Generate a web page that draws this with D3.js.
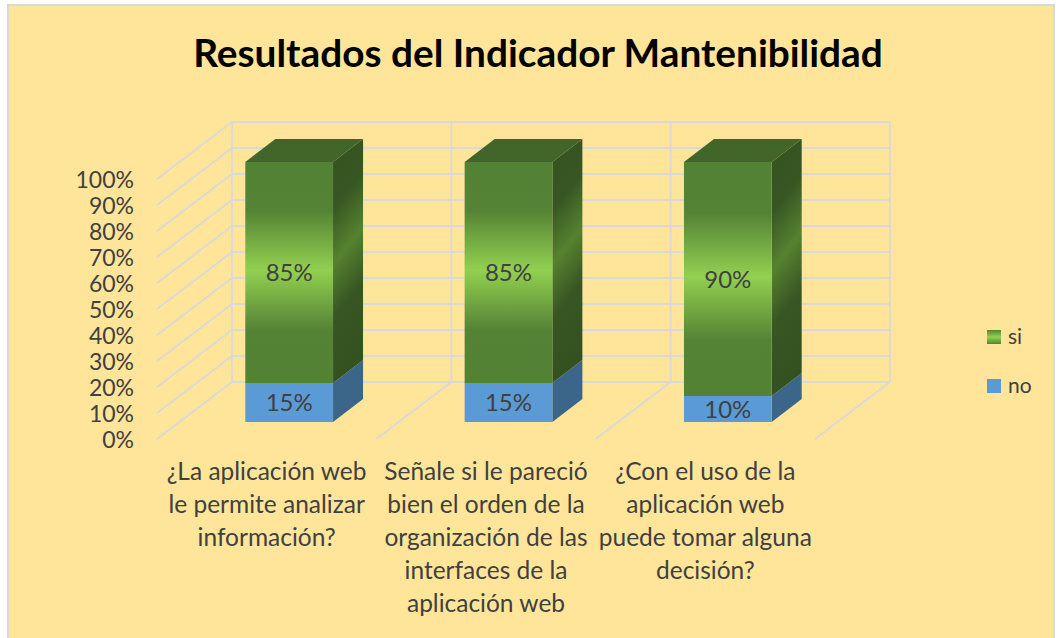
<!DOCTYPE html>
<html>
<head>
<meta charset="utf-8">
<script src="https://cdn.jsdelivr.net/npm/d3@7"></script>
<style>
  body { margin: 0; background: #ffffff; }
  text { font-family: Lato, "Open Sans", sans-serif; }
</style>
</head>
<body>
<svg id="chart" width="1059" height="638"></svg>
<script>
// ---- data ----
const categories = [
  "¿La aplicación web\nle permite analizar\ninformación?",
  "Señale si le pareció\nbien el orden de la\norganización de las\ninterfaces de la\naplicación web",
  "¿Con el uso de la\naplicación web\npuede tomar alguna\ndecisión?"
];
const seriesKeys = ["no", "si"];
const noValues = [0.15, 0.15, 0.10];
const siValues = [0.85, 0.85, 0.90];
const tickValues = [0, 0.1, 0.2, 0.3, 0.4, 0.5, 0.6, 0.7, 0.8, 0.9, 1.0];
const titleText = "Resultados del Indicador Mantenibilidad";

const rows = categories.map((c, i) => ({ cat: i, no: noValues[i], si: siValues[i] }));

// ---- layout ----
const svg = d3.select("#chart");

// chart area frame
svg.append("rect")
  .attr("x", 8).attr("y", 5)
  .attr("width", 1046).attr("height", 640)
  .attr("fill", "#FFE599")
  .attr("stroke", "#D9D9D9").attr("stroke-width", 2);

// front plane scales + depth projection of the 3D box
const x = d3.scaleBand().domain(d3.range(categories.length)).range([157, 815]).paddingInner(0).paddingOuter(0);
const y = d3.scaleLinear().domain([0, 1]).range([439, 179]);
const DX = 75, DY = -57;
const proj = (px, v, d) => [px + d * DX, y(v) + d * DY];

const gridColor = "#D9D9D9";
const grid = svg.append("g").attr("stroke", gridColor).attr("stroke-width", 1.8).attr("fill", "none");
const line = d3.line();

const bounds = d3.range(categories.length + 1).map(i => i < categories.length ? x(i) : x.range()[1]);

// back wall horizontal gridlines
tickValues.forEach(t => grid.append("path").attr("d", line([proj(bounds[0], t, 1), proj(bounds[bounds.length - 1], t, 1)])));
// back wall verticals
bounds.forEach(b => grid.append("path").attr("d", line([proj(b, 0, 1), proj(b, 1, 1)])));
// side wall diagonals
tickValues.forEach(t => grid.append("path").attr("d", line([proj(bounds[0], t, 0), proj(bounds[0], t, 1)])));
// floor diagonals
bounds.slice(1).forEach(b => grid.append("path").attr("d", line([proj(b, 0, 0), proj(b, 0, 1)])));

// ---- gradients ----
const defs = svg.append("defs");
const gFront = defs.append("linearGradient").attr("id", "greenFront")
  .attr("x1", 0).attr("y1", 0).attr("x2", 0).attr("y2", 1);
[[0, "#548235"], [0.22, "#558335"], [0.49, "#92D050"], [0.76, "#558335"], [1, "#548235"]]
  .forEach(([o, c]) => gFront.append("stop").attr("offset", o).attr("stop-color", c));
const gSide = defs.append("linearGradient").attr("id", "greenSide")
  .attr("x1", 0).attr("y1", 0).attr("x2", 0.15).attr("y2", 1);
[[0, "#35531F"], [0.28, "#375623"], [0.5, "#55822F"], [0.72, "#375623"], [1, "#34521F"]]
  .forEach(([o, c]) => gSide.append("stop").attr("offset", o).attr("stop-color", c));
const gLegend = defs.append("linearGradient").attr("id", "greenLegend")
  .attr("x1", 0).attr("y1", 0).attr("x2", 0).attr("y2", 1);
[[0, "#548235"], [0.5, "#92D050"], [1, "#548235"]]
  .forEach(([o, c]) => gLegend.append("stop").attr("offset", o).attr("stop-color", c));

const styles = {
  no: { front: "#5B9BD5", side: "#3B6589", top: "#4A82B5" },
  si: { front: "url(#greenFront)", side: "url(#greenSide)", top: "#42652A" }
};

// ---- bars ----
const stacked = d3.stack().keys(seriesKeys)(rows);
const D0 = 0.3, D1 = 0.7;
const bars = svg.append("g");
const poly = pts => "M" + pts.map(p => p.join(",")).join("L") + "Z";
const pct = d3.format(".0%");

rows.forEach((r, i) => {
  const xl = x(i) + x.bandwidth() * 0.3;
  const xr = x(i) + x.bandwidth() * 0.7;
  stacked.forEach((layer, li) => {
    const key = layer.key;
    const [v0, v1] = layer[i];
    const st = styles[key];
    bars.append("path").attr("d", poly([proj(xr, v0, D0), proj(xr, v0, D1), proj(xr, v1, D1), proj(xr, v1, D0)]))
      .attr("fill", st.side);
    bars.append("path").attr("d", poly([proj(xl, v0, D0), proj(xr, v0, D0), proj(xr, v1, D0), proj(xl, v1, D0)]))
      .attr("fill", st.front);
    if (li === stacked.length - 1) {
      bars.append("path").attr("d", poly([proj(xl, v1, D0), proj(xr, v1, D0), proj(xr, v1, D1), proj(xl, v1, D1)]))
        .attr("fill", st.top);
    }
    const cx = (xl + xr) / 2 + D0 * DX;
    const cy = y((v0 + v1) / 2) + D0 * DY;
    bars.append("text")
      .attr("x", cx).attr("y", cy)
      .attr("dy", "0.36em")
      .attr("text-anchor", "middle")
      .attr("font-size", 24)
      .attr("fill", "#404040")
      .text(pct(r[key]));
  });
});

// ---- value axis ----
const axis = d3.axisLeft(y).tickValues(tickValues).tickFormat(pct).tickSize(0).tickPadding(0);
const ax = svg.append("g").attr("transform", "translate(134,1)").call(axis);
ax.select(".domain").remove();
ax.selectAll("text").attr("font-family", "Lato, 'Open Sans', sans-serif").attr("font-size", 23).attr("fill", "#404040");

// ---- category labels ----
const catG = svg.append("g");
categories.forEach((c, i) => {
  const cx = x(i) + x.bandwidth() / 2;
  const t = catG.append("text")
    .attr("x", cx)
    .attr("y", 480)
    .attr("text-anchor", "middle")
    .attr("font-size", 24.5)
    .attr("fill", "#404040");
  c.split("\n").forEach((ln, k) => {
    t.append("tspan").attr("x", cx).attr("dy", k === 0 ? 0 : 33).text(ln);
  });
});

// ---- legend ----
const legendItems = seriesKeys.slice().reverse();
const lg = svg.append("g");
legendItems.forEach((k, i) => {
  lg.append("rect").attr("x", 987).attr("y", 330 + i * 49).attr("width", 14).attr("height", 14)
    .attr("fill", k === "si" ? "url(#greenLegend)" : "#5B9BD5");
  lg.append("text").attr("x", 1008).attr("y", 344 + i * 49)
    .attr("font-size", 21).attr("fill", "#404040").text(k);
});

// ---- title ----
const title = svg.append("text")
  .attr("x", 538).attr("y", 67)
  .attr("text-anchor", "middle")
  .attr("font-weight", "bold")
  .attr("font-size", 34)
  .attr("fill", "#000000")
  .text(titleText);
const tl = title.node().getComputedTextLength();
title.attr("font-size", 34 * 690 / tl);
</script>
</body>
</html>
